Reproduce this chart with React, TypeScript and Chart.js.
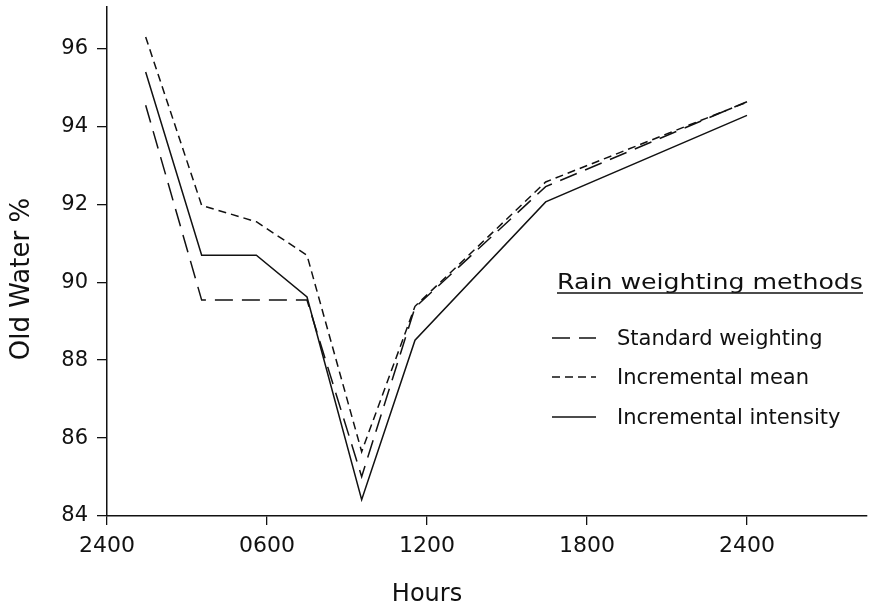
import React, { useEffect, useRef } from "react";
import { Chart, registerables } from "chart.js";

Chart.register(...registerables);

// ---- data ----
const hours = [1.45, 3.55, 5.6, 7.5, 9.55, 11.55, 16.45, 24];
const standardWeighting: (number | null)[] = [94.54, 89.54, null, 89.54, 85.01, 89.35, 92.45, 94.63];
const incrementalMean: (number | null)[] = [96.29, 91.97, 91.55, 90.69, 85.65, 89.38, 92.57, 94.62];
const incrementalIntensity: (number | null)[] = [95.39, 90.69, 90.69, 89.62, 84.42, 88.51, 92.06, 94.28];
const seriesNames = ["Standard weighting", "Incremental mean", "Incremental intensity"];
const xTickValues = [0, 6, 12, 18, 24];
const xTickLabels = ["2400", "0600", "1200", "1800", "2400"];
const yTickValues = [84, 86, 88, 90, 92, 94, 96];
const legendTitle = "Rain weighting methods";
const xTitle = "Hours";
const yTitle = "Old Water %";

const INK = "#111";
const FONT = '"DejaVu Sans", "Liberation Sans", sans-serif';

const toPoints = (vals: (number | null)[]) =>
  hours
    .map((h, i) => ({ x: h, y: vals[i] }))
    .filter((p) => p.y !== null) as { x: number; y: number }[];

export default function App() {
  const ref = useRef<HTMLCanvasElement>(null);

  useEffect(() => {
    if (!ref.current) return;

    const annotate = {
      id: "annotate",
      afterDraw(chart: any) {
        const ctx = chart.ctx as CanvasRenderingContext2D;
        const xs = chart.scales.x;
        ctx.save();
        ctx.fillStyle = INK;
        ctx.strokeStyle = INK;

        // y title
        ctx.save();
        ctx.font = `26px ${FONT}`;
        ctx.textAlign = "center";
        ctx.textBaseline = "middle";
        ctx.translate(22, 279);
        ctx.rotate(-Math.PI / 2);
        ctx.fillText(yTitle, 0, 0);
        ctx.restore();

        // x title (centred under the 1200 tick as in reference)
        ctx.font = `24px ${FONT}`;
        ctx.textAlign = "center";
        ctx.textBaseline = "alphabetic";
        ctx.fillText(xTitle, xs.getPixelForValue(12), 601);

        // legend title, underlined (wide face: stretch horizontally)
        ctx.font = `21px ${FONT}`;
        ctx.textAlign = "left";
        const tx = 557;
        const tw = 306;
        const mw = ctx.measureText(legendTitle).width;
        ctx.save();
        ctx.translate(tx, 289);
        ctx.scale(tw / mw, 1);
        ctx.fillText(legendTitle, 0, 0);
        ctx.restore();
        ctx.lineWidth = 1.3;
        ctx.setLineDash([]);
        ctx.beginPath();
        ctx.moveTo(tx, 293);
        ctx.lineTo(tx + tw, 293);
        ctx.stroke();

        // legend entries
        const rows = [338, 377, 417];
        chart.data.datasets.forEach((ds: any, i: number) => {
          const y = rows[i];
          ctx.lineWidth = ds.borderWidth;
          ctx.setLineDash(ds.borderDash || []);
          ctx.beginPath();
          ctx.moveTo(552, y);
          ctx.lineTo(596, y);
          ctx.stroke();
          ctx.setLineDash([]);
          ctx.font = `21px ${FONT}`;
          ctx.fillText(ds.label, 617, y + 7);
        });
        ctx.restore();
      },
    };

    const chart = new Chart(ref.current, {
      type: "line",
      data: {
        datasets: [
          {
            label: seriesNames[0],
            data: toPoints(standardWeighting),
            borderColor: INK,
            borderWidth: 1.5,
            borderDash: [18, 9],
            pointRadius: 0,
            fill: false,
            tension: 0,
          },
          {
            label: seriesNames[1],
            data: toPoints(incrementalMean),
            borderColor: INK,
            borderWidth: 1.5,
            borderDash: [8, 5],
            pointRadius: 0,
            fill: false,
            tension: 0,
          },
          {
            label: seriesNames[2],
            data: toPoints(incrementalIntensity),
            borderColor: INK,
            borderWidth: 1.5,
            pointRadius: 0,
            fill: false,
            tension: 0,
          },
        ],
      },
      options: {
        animation: false,
        responsive: true,
        maintainAspectRatio: false,
        layout: { padding: { top: 7, right: 6, left: 0, bottom: 0 } },
        plugins: {
          legend: { display: false },
          tooltip: { enabled: false },
        },
        scales: {
          x: {
            type: "linear",
            min: 0,
            max: 28.5,
            afterFit(scale: any) {
              scale.height = 88;
              scale.paddingLeft = 0;
              scale.paddingRight = 0;
            },
            afterBuildTicks(scale: any) {
              scale.ticks = xTickValues.map((v) => ({ value: v }));
            },
            ticks: {
              color: INK,
              font: { family: FONT, size: 22 },
              padding: 8,
              maxRotation: 0,
              callback: (v: any) => {
                const i = xTickValues.indexOf(Number(v));
                return i >= 0 ? xTickLabels[i] : "";
              },
            },
            grid: {
              drawOnChartArea: false,
              drawTicks: true,
              tickLength: 9,
              color: INK,
              lineWidth: 1.3,
            },
            border: { display: true, color: INK, width: 1.5 },
          },
          y: {
            type: "linear",
            min: 84,
            max: 97.06,
            afterFit(scale: any) {
              scale.width = 107;
              scale.paddingTop = 0;
              scale.paddingBottom = 0;
            },
            afterBuildTicks(scale: any) {
              scale.ticks = yTickValues.map((v) => ({ value: v }));
            },
            ticks: {
              color: INK,
              font: { family: FONT, size: 21 },
              padding: 9,
              callback: (v: any) => String(v),
            },
            grid: {
              drawOnChartArea: false,
              drawTicks: true,
              tickLength: 10,
              color: INK,
              lineWidth: 1.3,
            },
            border: { display: true, color: INK, width: 1.5 },
          },
        },
      },
      plugins: [annotate],
    } as any);

    return () => chart.destroy();
  }, []);

  return (
    <div
      style={{
        position: "fixed",
        left: 0,
        top: 0,
        width: 873,
        height: 604,
        background: "#fff",
      }}
    >
      <canvas ref={ref} />
    </div>
  );
}
